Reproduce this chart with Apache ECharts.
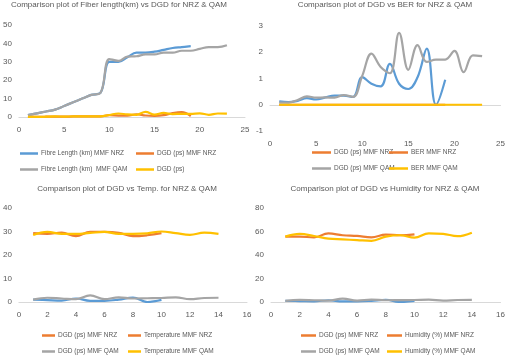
<!DOCTYPE html>
<html>
<head>
<meta charset="utf-8">
<script src="https://cdn.jsdelivr.net/npm/echarts@6/dist/echarts.min.js"></script>
<style>html,body{margin:0;padding:0;background:#fff}#c{width:508px;height:359px}</style>
</head>
<body>
<div id="c"></div>
<script>
// ---- Panel 1: Fiber length vs DGD ----
const p1FibreNRZ = [1, 2, 3, 4, 6, 8, 10, 12, 13, 30, 30, 32.5, 35, 35, 35.5, 36.5, 37.5, 38, 38.5];
const p1DgdNRZ   = [0.15, 0.1, 0.15, 0.25, 0.2, 0.3, 0.35, 0.35, 0.3, 1.0, 0.8, 0.7, 1.5, 0.8, 0.6, 1.0, 2.1, 2.6, 0.5];
const p1FibreQAM = [1, 2, 3, 4, 6, 8, 10, 12, 13, 31.5, 30.5, 32.8, 33, 34, 34, 35, 35, 36, 36, 37, 38, 38, 39];
const p1DgdQAM   = [0.1, 0.05, 0.15, 0.3, 0.25, 0.3, 0.3, 0.35, 0.3, 1.1, 1.9, 1.4, 1.2, 2.8, 1.3, 2.2, 1.6, 1.7, 1.7, 2.0, 1.2, 1.9, 1.8];
// ---- Panel 2: DGD vs BER ----
const p2DgdNRZ = [0.13, 0.1, 0.15, 0.25, 0.2, 0.28, 0.35, 0.35, 0.3, 1.05, 0.8, 0.7, 1.56, 0.8, 0.6, 1.05, 2.14, 0, 0.95];
const p2BerNRZ = [0, 0, 0, 0, 0, 0, 0, 0, 0, 0, 0, 0, 0, 0, 0, 0, 0, 0, 0];
const p2DgdQAM = [0.08, 0.08, 0.18, 0.32, 0.27, 0.28, 0.27, 0.37, 0.3, 1.1, 1.95, 1.44, 1.2, 2.74, 1.33, 2.27, 1.63, 1.72, 1.72, 2.05, 1.24, 1.88, 1.85];
const p2BerQAM = [0, 0, 0, 0, 0, 0, 0, 0, 0, 0, 0, 0, 0, 0, 0, 0, 0, 0, 0, 0, 0, 0, 0];
// ---- Panel 3: DGD vs Temperature ----
const p3DgdNRZ  = [1, 0.8, 0.6, 1.5, 0.5, 0.5, 1.0, 1.9, 0, 0.9];
const p3TempNRZ = [29.3, 29, 29.5, 28, 29.8, 29.8, 29.4, 28, 28.4, 29.3];
const p3DgdQAM  = [1, 1.8, 1.5, 1.2, 2.8, 1.2, 2.0, 1.5, 1.6, 1.7, 2.0, 1.2, 1.7, 1.8];
const p3TempQAM = [28.5, 29.8, 29, 29, 29.4, 29.8, 29, 29, 29.2, 30, 29.3, 28.6, 29.5, 29];
// ---- Panel 4: DGD vs Humidity ----
const p4DgdNRZ = [1, 0.8, 0.6, 1.5, 0.5, 0.5, 1.0, 1.9, 0, 0.9];
const p4HumNRZ = [55.6, 55.6, 55, 58.4, 56.8, 56.2, 55, 57.3, 56.8, 57.6];
const p4DgdQAM = [1, 1.8, 1.5, 1.2, 2.8, 1.2, 2.0, 1.5, 1.6, 1.7, 2.0, 1.2, 1.7, 1.8];
const p4HumQAM = [55.6, 58, 56.2, 53.9, 53.3, 52.7, 52.1, 55.6, 56.8, 54.8, 58.4, 58, 56, 59];

const titles = [
  'Comparison plot of Fiber length(km) vs DGD for NRZ & QAM',
  'Comparison plot of DGD vs BER for NRZ & QAM',
  'Comparison plot of DGD vs Temp. for NRZ & QAM',
  'Comparison plot of DGD vs Humidity for NRZ & QAM'
];
const names = [
  ['Fibre Length (km) MMF NRZ', 'DGD (ps) MMF NRZ', 'Fibre Length (km)  MMF QAM', 'DGD (ps)'],
  ['DGD (ps) MMF NRZ', 'BER MMF NRZ', 'DGD (ps) MMF QAM', 'BER MMF QAM'],
  ['DGD (ps) MMF NRZ', 'Temperature MMF NRZ', 'DGD (ps) MMF QAM', 'Temperature MMF QAM'],
  ['DGD (ps) MMF NRZ', 'Humidity (%) MMF NRZ', 'DGD (ps) MMF QAM', 'Humidity (%) MMF QAM']
];
const panelData = [
  [p1FibreNRZ, p1DgdNRZ, p1FibreQAM, p1DgdQAM],
  [p2DgdNRZ, p2BerNRZ, p2DgdQAM, p2BerQAM],
  [p3DgdNRZ, p3TempNRZ, p3DgdQAM, p3TempQAM],
  [p4DgdNRZ, p4HumNRZ, p4DgdQAM, p4HumQAM]
];
const colors = ['#5B9BD5', '#ED7D31', '#A5A5A5', '#FFC000'];
const FONT = '"Liberation Sans", Arial, sans-serif';
const TXT = '#595959';

const grids = [
  {left: 13, top: 25, width: 232, height: 92},
  {left: 270, top: 26, width: 232, height: 105},
  {left: 13, top: 208, width: 234, height: 94},
  {left: 271, top: 208, width: 234, height: 94}
];
const xr = [[0, 25, 5], [0, 25, 5], [0, 16, 2], [0, 16, 2]];
const yr = [[0, 50, 10], [-1, 3, 1], [0, 40, 10], [0, 80, 20]];
const titlePos = [[119, 1], [385, 1], [127, 185], [385, 185]];
const legCols = [[20, 136], [312, 389], [42, 128], [301, 387]];
const legTop = [150, 149, 332, 332];
const legLine = [18, 19, 13, 15];

const xAxis = [], yAxis = [], series = [], title = [], legend = [];
for (let i = 0; i < 4; i++) {
  title.push({text: titles[i], left: titlePos[i][0], top: titlePos[i][1], textAlign: 'center', padding: 0,
    textStyle: {fontFamily: FONT, fontSize: 8, fontWeight: 'normal', color: TXT}});
  xAxis.push({type: 'value', gridIndex: i, min: xr[i][0], max: xr[i][1], interval: xr[i][2],
    axisLine: {show: true, onZero: true, lineStyle: {color: '#D9D9D9', width: 1}},
    axisTick: {show: false}, splitLine: {show: false},
    axisLabel: {fontFamily: FONT, fontSize: 8, color: TXT, margin: 9}});
  yAxis.push({type: 'value', gridIndex: i, min: yr[i][0], max: yr[i][1], interval: yr[i][2],
    axisLine: {show: false}, axisTick: {show: false}, splitLine: {show: false},
    axisLabel: {fontFamily: FONT, fontSize: 8, color: TXT, margin: 7}});
  for (let s = 0; s < 4; s++) {
    series.push({
      type: 'line', name: names[i][s], xAxisIndex: i, yAxisIndex: i,
      data: panelData[i][s].map((v, k) => [k + 1, v]),
      smooth: 0.4, showSymbol: false, symbol: 'none',
      lineStyle: {color: colors[s], width: 2.2}, itemStyle: {color: colors[s]},
      z: 2 + s, animation: false
    });
  }
  for (let c = 0; c < 2; c++) {
    legend.push({
      data: [names[i][c], names[i][c + 2]].map(n => ({name: n})),
      orient: 'vertical', left: legCols[i][c], top: legTop[i], itemGap: 9,
      icon: 'rect', itemWidth: legLine[i], itemHeight: 2.5,
      textStyle: {fontFamily: FONT, fontSize: 6.5, color: TXT, padding: [0, 0, 0, -2]},
      padding: 0, selectedMode: false
    });
  }
}
const chart = echarts.init(document.getElementById('c'), null, {renderer: 'canvas'});
chart.setOption({
  backgroundColor: '#fff', animation: false,
  title, legend, grid: grids, xAxis, yAxis, series
});
</script>
</body>
</html>
